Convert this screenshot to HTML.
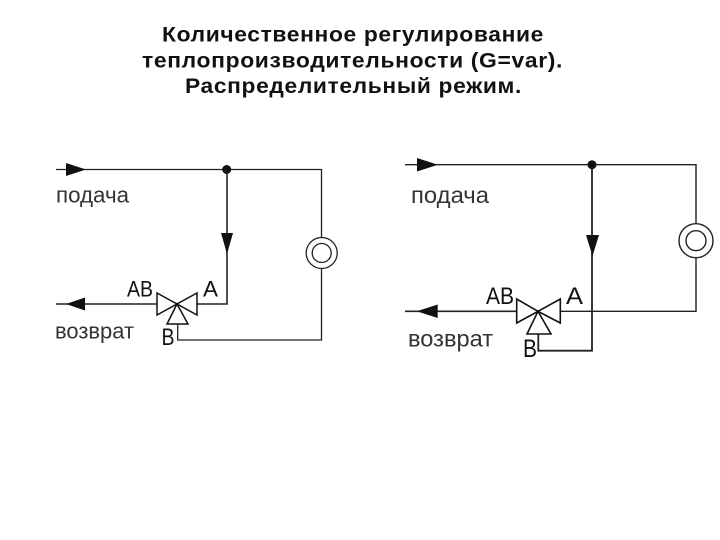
<!DOCTYPE html>
<html lang="ru">
<head>
<meta charset="utf-8">
<title>Количественное регулирование</title>
<style>
html,body{margin:0;padding:0;background:#fff;width:720px;height:540px;overflow:hidden}
svg{display:block}
text{font-family:"Liberation Sans",sans-serif;fill:#111}
.t{font-size:21.5px;font-weight:bold;letter-spacing:.6px}
.l{font-size:22px;fill:#333}
.v{font-size:22px;fill:#111}
</style>
</head>
<body>
<svg width="720" height="540" viewBox="0 0 720 540" xmlns="http://www.w3.org/2000/svg">
<rect width="720" height="540" fill="#fff"/>
<text class="t" x="162" y="41.500" textLength="382" lengthAdjust="spacingAndGlyphs">Количественное регулирование</text>
<text class="t" x="142" y="67.500" textLength="421" lengthAdjust="spacingAndGlyphs">теплопроизводительности (G=var).</text>
<text class="t" x="185" y="93" textLength="337" lengthAdjust="spacingAndGlyphs">Распределительный режим.</text>

<!-- left diagram -->
<g fill="none" stroke="#222" stroke-width="1.3">
<path d="M56 169.500H321.500V237.500M321.500 268.500V340H177.700V324"/>
<path d="M227 169.500V304H197" stroke-width="1.6"/>
<path d="M56 304H157" stroke-width="1.6"/>
<circle cx="321.700" cy="253" r="15.500"/>
<circle cx="321.700" cy="253" r="9.500"/>
<path d="M157 293V315L177 304ZM197 293V315L177 304ZM177 304L167 324H188Z" fill="#fff" stroke="#111" stroke-width="1.500"/>
</g>
<circle cx="226.700" cy="169.500" r="4.500" fill="#111"/>
<path d="M66 163V176L86 169.500Z M221 233H233L227 254Z M66 304L85 297.500V310.500Z" fill="#111"/>
<text class="l" x="56" y="202.500" textLength="73" lengthAdjust="spacingAndGlyphs">подача</text>
<text class="l" x="55" y="338.500" textLength="79" lengthAdjust="spacingAndGlyphs">возврат</text>
<text class="v" x="127" y="296.500" textLength="26" lengthAdjust="spacingAndGlyphs">AB</text>
<text class="v" x="203" y="296.500" textLength="15" lengthAdjust="spacingAndGlyphs">A</text>
<text class="v" x="161.500" y="345" style="font-size:24px" textLength="13" lengthAdjust="spacingAndGlyphs">B</text>

<!-- right diagram -->
<g fill="none" stroke="#222" stroke-width="1.4">
<path d="M405 164.700H696V223.700M696 257.700V311.300H560"/>
<path d="M592 164.700V350.700H538.300V334" stroke-width="1.800"/>
<path d="M405 311.300H517" stroke-width="1.600"/>
<circle cx="696" cy="240.700" r="17"/>
<circle cx="696" cy="240.700" r="10"/>
<path d="M516.700 299V323L538 311.300ZM560.300 299V323L538 311.300ZM538 311.300L527 334H551Z" fill="#fff" stroke="#111" stroke-width="1.600"/>
</g>
<circle cx="592" cy="164.700" r="4.500" fill="#111"/>
<path d="M417 158V171.500L438 164.700Z M586 235H599L592.500 256Z M416.700 311.300L437.700 304.500V318Z" fill="#111"/>
<text class="l" x="411" y="203" style="font-size:23px" textLength="78" lengthAdjust="spacingAndGlyphs">подача</text>
<text class="l" x="408" y="346.500" style="font-size:23px" textLength="85" lengthAdjust="spacingAndGlyphs">возврат</text>
<text class="v" x="486" y="304" style="font-size:24px" textLength="28" lengthAdjust="spacingAndGlyphs">AB</text>
<text class="v" x="566" y="304" style="font-size:24px" textLength="17" lengthAdjust="spacingAndGlyphs">A</text>
<text class="v" x="523" y="357" style="font-size:25px" textLength="14" lengthAdjust="spacingAndGlyphs">B</text>
</svg>
</body>
</html>
